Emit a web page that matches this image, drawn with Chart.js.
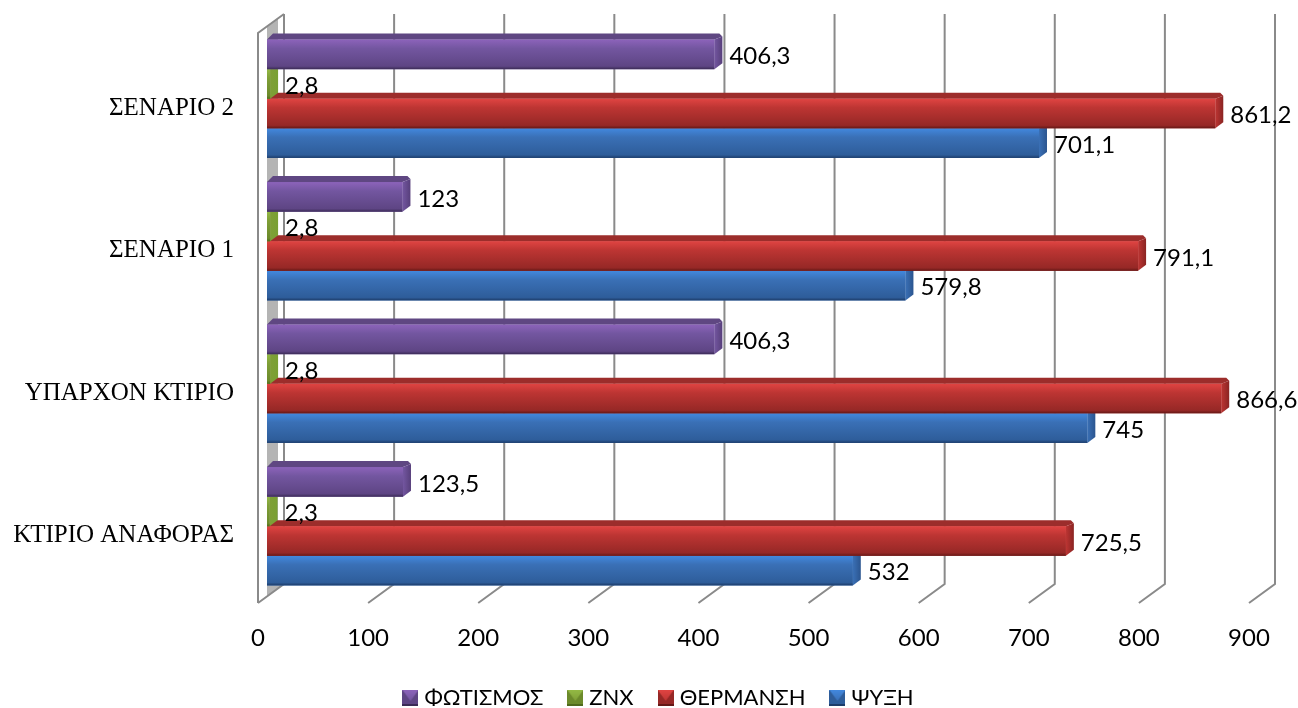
<!DOCTYPE html>
<html>
<head>
<meta charset="utf-8">
<title>ΚΑΤΑΝΑΛΩΣΗ</title>
<script src="https://cdn.jsdelivr.net/npm/chart.js@4/dist/chart.umd.min.js"></script>
<style>
  html, body { margin: 0; background: #fff; }
  canvas { display: block; }
</style>
</head>
<body>
<canvas id="energyChart" width="1298" height="708"></canvas>
<script>
const categories = ["ΚΤΙΡΙΟ ΑΝΑΦΟΡΑΣ", "ΥΠΑΡΧΟΝ ΚΤΙΡΙΟ", "ΣΕΝΑΡΙΟ 1", "ΣΕΝΑΡΙΟ 2"];
const cooling = [532, 745, 579.8, 701.1];
const heating = [725.5, 866.6, 791.1, 861.2];
const hotWater = [2.3, 2.8, 2.8, 2.8];
const lighting = [123.5, 406.3, 123, 406.3];
const seriesNames = ["ΨΥΞΗ", "ΘΕΡΜΑΝΣΗ", "ΖΝΧ", "ΦΩΤΙΣΜΟΣ"];
const xTicks = [0, 100, 200, 300, 400, 500, 600, 700, 800, 900];

// face colours of each bar: front gradient, top face, end cap
const shades = [
  { light: "#4288de", mid: "#3a70b6", dark: "#2e5d9a", edge: "#1d3c69", top: "#2f5f9e", cap: "#2b558f" },
  { light: "#e04442", mid: "#bd3533", dark: "#962826", edge: "#651816", top: "#9c2d2b", cap: "#8a2422" },
  { light: "#93b944", mid: "#7f9f37", dark: "#6c8a2b", edge: "#4f6a1c", top: "#7a9a33", cap: "#79a033" },
  { light: "#8c63ba", mid: "#7356a0", dark: "#5e4584", edge: "#3b2b56", top: "#5f4782", cap: "#573f7b" }
];

// the walls sit behind the front plane by this much
const WALL_DX = 26, WALL_DY = 19;
// bars stand part of the way back
const BAR_DX = 9, BAR_DY = 5.5;
const CAP = 8, LID = 6;

const numberFont = "Lato, Carlito, 'Open Sans', sans-serif";

function drawWalls(chart) {
  const ctx = chart.ctx;
  const area = chart.chartArea;
  const x = chart.scales.x;
  const x0 = x.getPixelForValue(0);
  const backTop = area.top - WALL_DY;
  const backBottom = area.bottom - WALL_DY;

  ctx.save();
  // grey side wall strip and its floor wedge
  ctx.fillStyle = "#b4b4b4";
  ctx.beginPath();
  ctx.moveTo(x0 + BAR_DX, backTop + 13);
  ctx.lineTo(x0 + 20, backTop + 4);
  ctx.lineTo(x0 + 20, backBottom);
  ctx.lineTo(x0 + WALL_DX, backBottom);
  ctx.lineTo(x0 + BAR_DX, backBottom + 13);
  ctx.closePath();
  ctx.fill();

  ctx.strokeStyle = "#8a8a8a";
  ctx.lineWidth = 2;
  xTicks.forEach(v => {
    const px = x.getPixelForValue(v);
    ctx.beginPath();
    ctx.moveTo(px + WALL_DX, backTop);
    ctx.lineTo(px + WALL_DX, backBottom);
    ctx.lineTo(px, area.bottom);
    ctx.stroke();
  });
  ctx.beginPath();
  ctx.moveTo(x0 + WALL_DX, backTop);
  ctx.lineTo(x0, area.top);
  ctx.lineTo(x0, area.bottom);
  ctx.stroke();
  ctx.restore();
}

function drawBarFaces(ctx, el, s) {
  const x0 = el.base;
  const x1 = el.x;
  const top = el.y - el.height / 2;
  const bot = el.y + el.height / 2;

  // lid
  ctx.fillStyle = s.top;
  ctx.beginPath();
  ctx.moveTo(x0, top);
  ctx.lineTo(x0 + LID, top - LID);
  ctx.lineTo(x1 + CAP - 3, top - LID);
  ctx.lineTo(x1 + CAP, top - LID + 3);
  ctx.lineTo(x1, top);
  ctx.closePath();
  ctx.fill();

  // end cap
  const capGrad = ctx.createLinearGradient(x1, 0, x1 + CAP, 0);
  capGrad.addColorStop(0, s.mid);
  capGrad.addColorStop(1, s.cap);
  ctx.fillStyle = capGrad;
  ctx.beginPath();
  ctx.moveTo(x1, top);
  ctx.lineTo(x1 + CAP, top - LID + 3);
  ctx.lineTo(x1 + CAP, bot - LID);
  ctx.lineTo(x1, bot);
  ctx.closePath();
  ctx.fill();

  // front
  const grad = ctx.createLinearGradient(0, top, 0, bot);
  grad.addColorStop(0, s.light);
  grad.addColorStop(0.3, s.mid);
  grad.addColorStop(0.9, s.dark);
  grad.addColorStop(1, s.edge);
  ctx.fillStyle = grad;
  ctx.fillRect(x0, top, x1 - x0, bot - top);
}

function legendIcon(s) {
  const c = document.createElement("canvas");
  c.width = 16;
  c.height = 16;
  const g = c.getContext("2d");
  g.fillStyle = s.dark;
  g.fillRect(0, 0, 16, 16);
  g.fillStyle = s.edge;
  g.fillRect(0, 14, 16, 2);
  const tri = g.createLinearGradient(0, 0, 0, 11);
  tri.addColorStop(0, s.light);
  tri.addColorStop(1, s.mid);
  g.fillStyle = tri;
  g.beginPath();
  g.moveTo(0, 0);
  g.lineTo(16, 0);
  g.lineTo(8, 11);
  g.closePath();
  g.fill();
  return c;
}

const bars3d = {
  id: "bars3d",
  afterLayout(chart) {
    // legend sits lower and further right than its default slot
    const l = chart.legend;
    l.left += 36; l.right += 36;
    l.top += 5; l.bottom += 5;
  },
  beforeDatasetsDraw(chart) {
    drawWalls(chart);
    chart.ctx.save();
    chart.ctx.translate(BAR_DX, -BAR_DY);
  },
  afterDatasetDraw(chart, args) {
    args.meta.data.forEach(el => drawBarFaces(chart.ctx, el, shades[args.index]));
  },
  afterDatasetsDraw(chart) {
    const ctx = chart.ctx;
    ctx.restore();
    // value labels, decimal comma
    ctx.save();
    ctx.font = "24px " + numberFont;
    ctx.fillStyle = "#000";
    ctx.textAlign = "left";
    ctx.textBaseline = "middle";
    chart.data.datasets.forEach((ds, i) => {
      chart.getDatasetMeta(i).data.forEach((el, j) => {
        const text = String(ds.data[j]).replace(".", ",");
        ctx.fillText(text, el.x + BAR_DX + 15, el.y - BAR_DY + 2);
      });
    });
    ctx.restore();
  }
};

function makeDataset(name, values, i) {
  return {
    label: name,
    data: values,
    backgroundColor: shades[i].mid,
    borderWidth: 0,
    clip: false,
    order: 4 - i, // blue goes down first, purple last
    barPercentage: 1,
    categoryPercentage: 0.83
  };
}

new Chart(document.getElementById("energyChart"), {
  type: "bar",
  data: {
    labels: categories,
    datasets: [cooling, heating, hotWater, lighting].map((v, i) => makeDataset(seriesNames[i], v, i))
  },
  options: {
    indexAxis: "y",
    responsive: false,
    animation: false,
    layout: { padding: { top: 33, right: 49, left: 0, bottom: -6 } },
    scales: {
      x: {
        min: 0,
        max: 900,
        grid: { display: false },
        border: { display: false },
        afterFit(scale) { scale.height = 50; },
        ticks: {
          stepSize: 100,
          maxRotation: 0,
          padding: 13,
          color: "#000",
          font: { family: numberFont, size: 24 }
        }
      },
      y: {
        reverse: true,
        grid: { display: false },
        border: { display: false },
        afterFit(scale) { scale.width = 258; },
        ticks: {
          padding: 16,
          labelOffset: 4,
          color: "#000",
          font: { family: "'Liberation Serif', serif", size: 25 }
        }
      }
    },
    plugins: {
      tooltip: { enabled: false },
      legend: {
        position: "bottom",
        reverse: true,
        labels: {
          usePointStyle: true,
          boxWidth: 6,
          padding: 29,
          color: "#000",
          font: { family: numberFont, size: 22 },
          generateLabels(chart) {
            return chart.data.datasets.map((ds, i) => ({
              text: ds.label,
              pointStyle: legendIcon(shades[i]),
              fontColor: "#000",
              lineWidth: 0,
              datasetIndex: i
            }));
          }
        }
      }
    }
  },
  plugins: [bars3d]
});
</script>
</body>
</html>
